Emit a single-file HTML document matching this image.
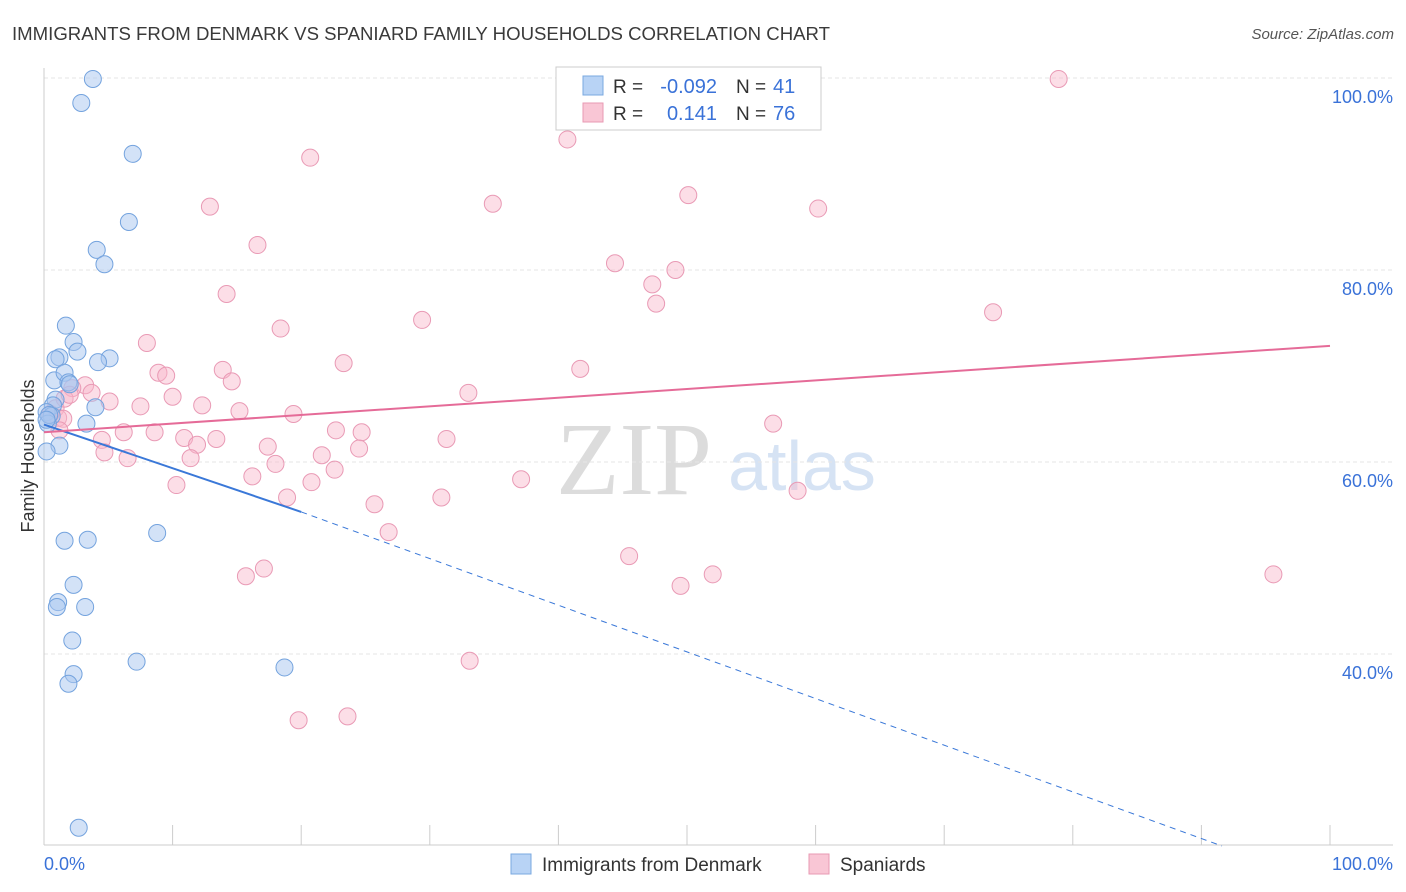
<!DOCTYPE html>
<html><head><meta charset="utf-8"><style>
body{margin:0;background:#fff;font-family:"Liberation Sans",sans-serif;}
svg{display:block}
</style></head><body>
<svg width="1406" height="892">
<text x="12" y="40" font-size="18" fill="#3a3a3a" textLength="818" lengthAdjust="spacingAndGlyphs">IMMIGRANTS FROM DENMARK VS SPANIARD FAMILY HOUSEHOLDS CORRELATION CHART</text>
<text x="1394" y="39" font-size="15" fill="#555" text-anchor="end" font-style="italic">Source: ZipAtlas.com</text>
<text x="634" y="494" font-size="104" fill="#dcdcdc" font-family="Liberation Serif,serif" text-anchor="middle">ZIP</text>
<text x="802" y="490" font-size="70" fill="#d6e3f4" text-anchor="middle">atlas</text>
<g id="grid"></g>
<g id="axes"></g>
<g id="marks"></g>
<text transform="translate(34,456) rotate(-90)" font-size="18" fill="#333" text-anchor="middle">Family Households</text>
<g>
<rect x="556" y="67" width="265" height="63" fill="#fff" stroke="#ccc"/>
<rect x="583" y="76" width="20" height="19" fill="#b8d3f5" stroke="#7aa8e0"/>
<text x="613" y="93" font-size="19" fill="#333">R =</text>
<text x="717" y="93" font-size="20" fill="#3a72d8" text-anchor="end">-0.092</text>
<text x="736" y="93" font-size="19" fill="#333">N =</text>
<text x="773" y="93" font-size="20" fill="#3a72d8">41</text>
<rect x="583" y="103" width="20" height="19" fill="#f9c6d5" stroke="#e89ab3"/>
<text x="613" y="120" font-size="19" fill="#333">R =</text>
<text x="717" y="120" font-size="20" fill="#3a72d8" text-anchor="end">0.141</text>
<text x="736" y="120" font-size="19" fill="#333">N =</text>
<text x="773" y="120" font-size="20" fill="#3a72d8">76</text>
</g>
<g>
<rect x="511" y="854" width="20" height="20" fill="#b8d3f5" stroke="#7aa8e0"/>
<text x="542" y="871" font-size="19" fill="#333">Immigrants from Denmark</text>
<rect x="809" y="854" width="20" height="20" fill="#f9c6d5" stroke="#e89ab3"/>
<text x="840" y="871" font-size="19" fill="#333">Spaniards</text>
</g>
</svg>
<script>
const yTicks=[40,60,80,100];
const xTickLabels=["0.0%","100.0%"];
const blueX=[3.8,2.9,6.9,6.6,4.1,4.7,1.7,2.3,1.2,0.9,2.6,5.1,4.2,0.8,1.6,1.9,2.0,0.9,0.7,4.0,0.2,0.6,3.3,0.3,1.2,0.2,1.6,3.4,8.8,2.3,1.1,1.0,3.2,2.2,7.2,18.7,2.3,1.9,2.7,0.4,0.2];
const blueY=[99.9,97.4,92.1,85.0,82.1,80.6,74.2,72.5,70.9,70.7,71.5,70.8,70.4,68.5,69.3,68.3,68.1,66.5,65.9,65.7,65.2,64.8,64.0,64.0,61.7,61.1,51.8,51.9,52.6,47.2,45.4,44.9,44.9,41.4,39.2,38.6,37.9,36.9,21.9,64.9,64.4];
const pinkX=[78.9,40.7,20.7,34.9,50.1,12.9,60.2,16.6,44.4,49.1,47.3,14.2,47.6,73.8,29.4,18.4,8.0,23.3,41.7,13.9,8.9,9.5,14.6,3.2,2.2,3.7,33.0,10.0,5.1,7.5,12.3,15.2,19.4,0.9,1.1,1.5,56.7,22.7,24.7,6.2,8.6,10.9,13.4,31.3,4.5,11.9,17.4,1.2,24.5,4.7,21.6,11.4,6.5,18.0,22.6,16.2,37.1,10.3,20.8,58.6,18.9,30.9,25.7,26.8,45.5,17.1,15.7,52.0,95.6,49.5,33.1,19.8,23.6,1.6,2.0,0.5];
const pinkY=[99.9,93.6,91.7,86.9,87.8,86.6,86.4,82.6,80.7,80.0,78.5,77.5,76.5,75.6,74.8,73.9,72.4,70.3,69.7,69.6,69.3,69.0,68.4,68.0,67.7,67.2,67.2,66.8,66.3,65.8,65.9,65.3,65.0,65.6,64.6,64.5,64.0,63.3,63.1,63.1,63.1,62.5,62.4,62.4,62.3,61.8,61.6,63.3,61.4,61.0,60.7,60.4,60.4,59.8,59.2,58.5,58.2,57.6,57.9,57.0,56.3,56.3,55.6,52.7,50.2,48.9,48.1,48.3,48.3,47.1,39.3,33.1,33.5,66.6,67.0,65.0];
const blueTrend=[63.9,54.8,20]; const blueTrendX=[0,20,91.6];
const pinkTrend=[63.1,72.1]; const pinkTrendX=[0,100];
const NS="http://www.w3.org/2000/svg";
const X=v=>44+v*12.86, Y=v=>78+(100-v)*9.6;
function mk(tag,attrs,parent){const e=document.createElementNS(NS,tag);for(const k in attrs)e.setAttribute(k,attrs[k]);document.getElementById(parent).appendChild(e);return e;}
yTicks.forEach(t=>{
 const l=mk('line',{x1:44,x2:1393,y1:Y(t),y2:Y(t),stroke:'#e6e6e6','stroke-dasharray':'4 3'},'grid');
 
 
 const tx=mk('text',{x:1393,y:Y(t)+25,'font-size':18,fill:'#3a72d8','text-anchor':'end'},'axes');
 tx.textContent=t.toFixed(1)+'%';
 
 
});
mk('line',{x1:44,x2:44,y1:68,y2:845,stroke:'#ccc'},'axes');
mk('line',{x1:44,x2:1393,y1:845,y2:845,stroke:'#ccc'},'axes');
for(let i=0;i<=10;i++){mk('line',{x1:X(i*10),x2:X(i*10),y1:825,y2:845,stroke:'#ccc'},'axes');}
[[44,'start',0],[1393,'end',1]].forEach(([x,a,i])=>{const t=mk('text',{x:x,y:870,'font-size':18,fill:'#3a72d8','text-anchor':a},'axes');t.textContent=xTickLabels[i];
 
 });
pinkX.forEach((v,i)=>{const c=mk('circle',{cx:X(v),cy:Y(pinkY[i]),r:8.5,fill:'rgba(248,182,202,0.45)',stroke:'#e99ab5','stroke-width':1},'marks');
 
 });
blueX.forEach((v,i)=>{const c=mk('circle',{cx:X(v),cy:Y(blueY[i]),r:8.5,fill:'rgba(168,198,240,0.5)',stroke:'#74a3de','stroke-width':1},'marks');
 
 });
const bl=mk('line',{x1:X(blueTrendX[0]),y1:Y(blueTrend[0]),x2:X(blueTrendX[1]),y2:Y(blueTrend[1]),stroke:'#3a78d8','stroke-width':2},'marks');


const bd=mk('line',{x1:X(blueTrendX[1]),y1:Y(blueTrend[1]),x2:X(blueTrendX[2]),y2:Y(blueTrend[2]),stroke:'#3a78d8','stroke-width':1,'stroke-dasharray':'6 5'},'marks');


const pl=mk('line',{x1:X(pinkTrendX[0]),y1:Y(pinkTrend[0]),x2:X(pinkTrendX[1]),y2:Y(pinkTrend[1]),stroke:'#e56b98','stroke-width':2},'marks');


</script>
</body></html>
